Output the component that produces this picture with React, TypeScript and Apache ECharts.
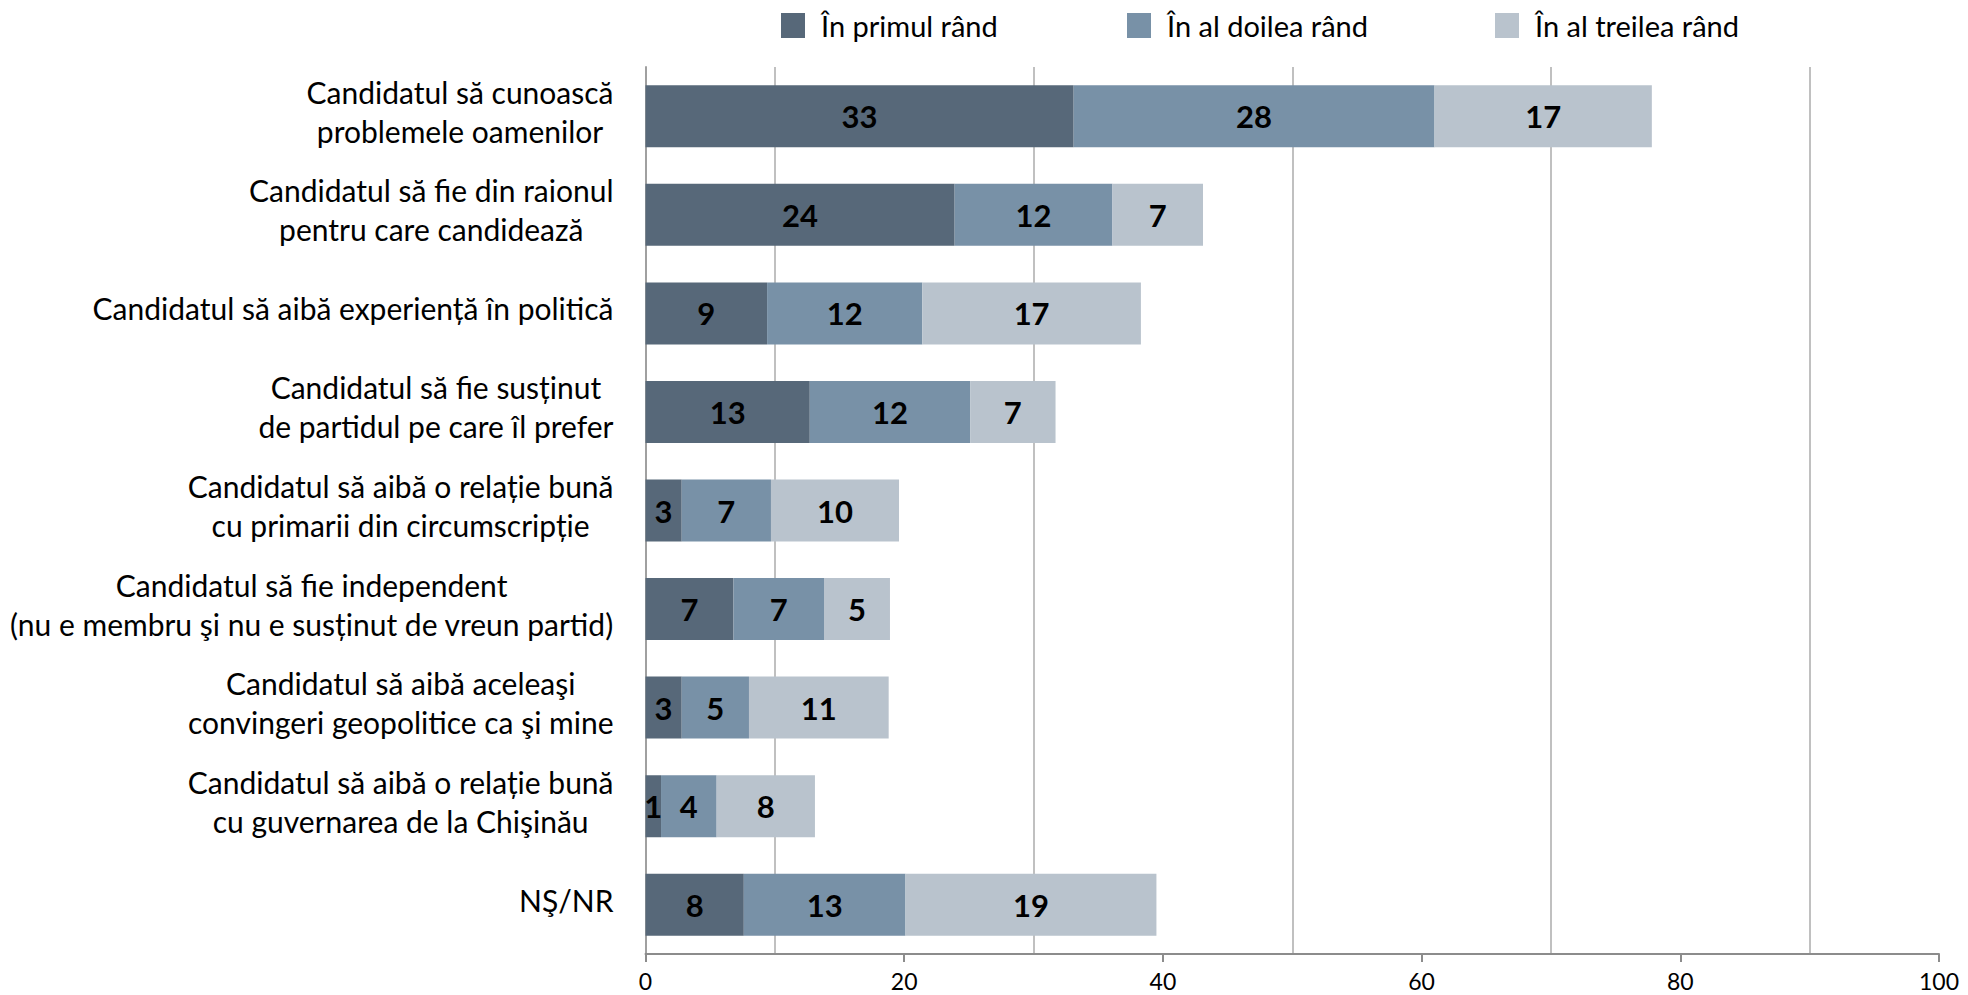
import React, { useEffect, useRef } from "react";
import * as echarts from "echarts";

const categories = [
  "Candidatul să cunoască\nproblemele oamenilor",
  "Candidatul să fie din raionul\npentru care candidează",
  "Candidatul să aibă experiență în politică",
  "Candidatul să fie susținut\nde partidul pe care îl prefer",
  "Candidatul să aibă o relație bună\ncu primarii din circumscripție",
  "Candidatul să fie independent\n(nu e membru şi nu e susținut de vreun partid)",
  "Candidatul să aibă aceleaşi\nconvingeri geopolitice ca şi mine",
  "Candidatul să aibă o relație bună\ncu guvernarea de la Chişinău",
  "NŞ/NR",
];

const seriesNames = ["În primul rând", "În al doilea rând", "În al treilea rând"];
const primul = [33.1, 23.9, 9.4, 12.7, 2.8, 6.8, 2.8, 1.2, 7.6];
const doilea = [27.9, 12.2, 12.0, 12.4, 6.9, 7.0, 5.2, 4.3, 12.5];
const treilea = [16.8, 7.0, 16.9, 6.6, 9.9, 5.1, 10.8, 7.6, 19.4];
const xTicks = [0, 20, 40, 60, 80, 100];

const colors = ["#576879", "#7891a7", "#b9c3cd"];
const FONT = "Lato";

export default function App() {
  const ref = useRef<HTMLDivElement>(null);
  useEffect(() => {
    if (!ref.current) return;
    const chart = echarts.init(ref.current, undefined, { renderer: "svg" });
    const values = [primul, doilea, treilea];
    const legendLefts = [776, 1122, 1490];
    chart.setOption({
      animation: false,
      textStyle: { fontFamily: FONT },
      legend: seriesNames.map((n, i) => ({
        data: [n],
        left: legendLefts[i],
        top: 6,
        icon: "rect",
        itemWidth: 24,
        itemHeight: 25,
        textStyle: { fontFamily: FONT, fontSize: 29, color: "#000", padding: [0, 0, 0, 11] },
      })),
      grid: { left: 645.5, right: 29, top: 67, bottom: 41, containLabel: false },
      xAxis: {
        type: "value",
        min: xTicks[0],
        max: xTicks[xTicks.length - 1],
        interval: 20,
        axisLine: { show: true, lineStyle: { color: "#8c8c8c", width: 2 } },
        axisTick: { show: true, length: 8, lineStyle: { color: "#8c8c8c", width: 2 } },
        axisLabel: { fontFamily: FONT, fontSize: 23, color: "#000", margin: 15 },
        splitLine: { show: false },
        minorTick: { show: false, splitNumber: 2 },
        minorSplitLine: { show: true, lineStyle: { color: "#c0c0c0", width: 2 } },
      },
      yAxis: {
        type: "category",
        data: categories,
        inverse: true,
        axisLine: { show: true, lineStyle: { color: "#a0a0a0", width: 2 } },
        axisTick: { show: false },
        axisLabel: {
          margin: 32,
          align: "right",
          padding: [0, 0, 10, 0],
          formatter: (v: string) =>
            v
              .split("\n")
              .map((l) => `{c|${l}}`)
              .join("\n"),
          rich: {
            c: { align: "center", fontFamily: FONT, fontSize: 30, color: "#000", lineHeight: 39 },
          },
        },
      },
      series: seriesNames.map((n, i) => ({
        name: n,
        type: "bar",
        stack: "total",
        barWidth: 62,
        data: values[i],
        itemStyle: { color: colors[i] },
        label: {
          show: true,
          position: "inside",
          formatter: (p: any) => String(Math.round(p.value)),
          fontFamily: FONT,
          fontWeight: "bold",
          fontSize: 31,
          color: "#000",
        },
      })),
    });
    return () => chart.dispose();
  }, []);
  return (
    <div
      ref={ref}
      style={{ position: "fixed", left: 0, top: 0, width: 1968, height: 995, background: "#fff" }}
    />
  );
}
